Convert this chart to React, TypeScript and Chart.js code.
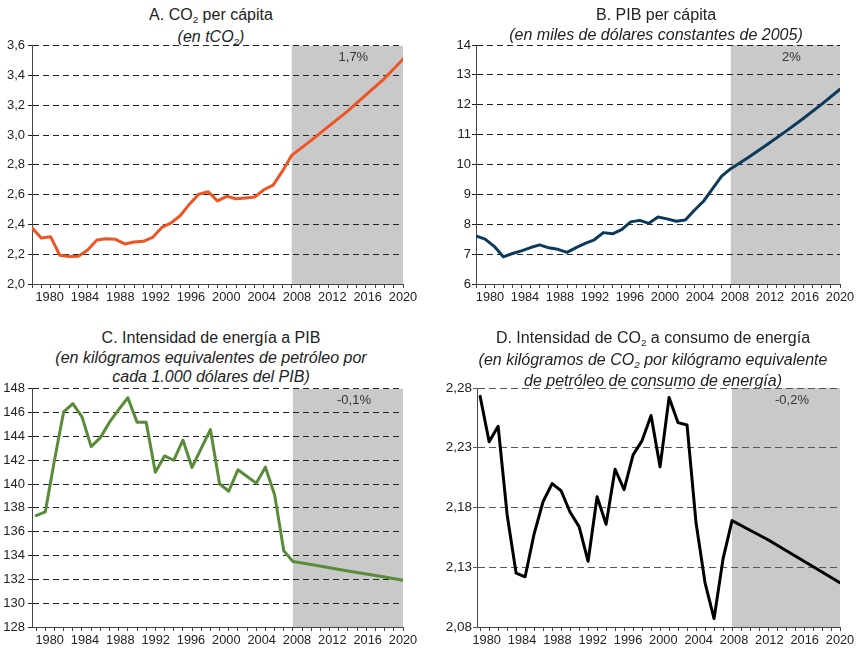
import React, { useEffect, useRef } from "react";
import { Chart, registerables } from "chart.js";

Chart.register(...registerables);

// ---------------- DATA ----------------
const historicalYears = [
  1980, 1981, 1982, 1983, 1984, 1985, 1986, 1987, 1988, 1989, 1990, 1991, 1992, 1993, 1994,
  1995, 1996, 1997, 1998, 1999, 2000, 2001, 2002, 2003, 2004, 2005, 2006, 2007, 2008,
];
const projectionYears = [2008, 2010, 2012, 2014, 2016, 2018, 2020];
const projectionStart = 2008;
const labelYears = [1980, 1984, 1988, 1992, 1996, 2000, 2004, 2008, 2012, 2016, 2020];

// A. CO2 per cápita (tCO2)
const co2PerCapitaHistorical = [
  2.378, 2.309, 2.318, 2.193, 2.184, 2.187, 2.229, 2.296, 2.304, 2.3, 2.269, 2.282, 2.287, 2.313, 2.38,
  2.411, 2.46, 2.538, 2.604, 2.62, 2.558, 2.589, 2.573, 2.578, 2.584, 2.633, 2.664, 2.758, 2.864,
];
const co2PerCapitaProjection = [2.864, 2.96, 3.06, 3.16, 3.27, 3.38, 3.51];
const co2PerCapitaTicks = [2.0, 2.2, 2.4, 2.6, 2.8, 3.0, 3.2, 3.4, 3.6];

// B. PIB per cápita (miles de dólares constantes de 2005)
const gdpPerCapitaHistorical = [
  7.61, 7.5, 7.26, 6.91, 7.02, 7.11, 7.22, 7.31, 7.21, 7.16, 7.06, 7.22, 7.36, 7.48, 7.72,
  7.68, 7.82, 8.08, 8.13, 8.03, 8.24, 8.18, 8.1, 8.14, 8.47, 8.77, 9.19, 9.61, 9.86,
];
const gdpPerCapitaProjection = [9.86, 10.25, 10.67, 11.1, 11.55, 12.02, 12.52];
const gdpPerCapitaTicks = [6, 7, 8, 9, 10, 11, 12, 13, 14];

// C. Intensidad de energía a PIB
const energyIntensityHistorical = [
  137.36, 137.67, 142.0, 146.06, 146.75, 145.64, 143.14, 143.9, 145.2, 146.25, 147.25, 145.2, 145.2, 141.0, 142.36,
  142.0, 143.7, 141.4, 143.0, 144.58, 140.03, 139.4, 141.2, 140.64, 140.08, 141.42, 139.1, 134.4, 133.5,
];
const energyIntensityProjection = [133.5, 133.24, 132.97, 132.71, 132.45, 132.19, 131.92];
const energyIntensityTicks = [128, 130, 132, 134, 136, 138, 140, 142, 144, 146, 148];

// D. Intensidad de CO2 a consumo de energía
const co2IntensityHistorical = [
  2.273, 2.235, 2.248, 2.174, 2.125, 2.122, 2.158, 2.185, 2.2, 2.194, 2.176, 2.164, 2.135, 2.189, 2.166,
  2.212, 2.195, 2.224, 2.236, 2.257, 2.214, 2.272, 2.251, 2.249, 2.167, 2.117, 2.087, 2.137, 2.169,
];
const co2IntensityProjection = [2.169, 2.161, 2.153, 2.144, 2.135, 2.126, 2.117];
const co2IntensityTicks = [2.08, 2.13, 2.18, 2.23, 2.28];

const growthLabels = ["1,7%", "2%", "-0,1%", "-0,2%"];

// ---------------- STYLE ----------------
const FONT = '"Liberation Sans", Arial, Helvetica, sans-serif';
const yearTickMarks = Array.from({ length: 41 }, (_, i) => 1980 + i);

type PanelSpec = {
  key: string;
  historical: number[];
  projection: number[];
  yTicks: number[];
  decimals: number;
  color: string;
  lineWidth: number;
  growth: string;
  left: number;
  top: number;
  height: number;
  yWidth: number;
  yPad: number;
  yFont: number;
  padRight: number;
  dataMin: number;
  labelMin: number;
  labelAxisHeight: number;
  gridColor: string;
  dash: number[];
  titleCenter: number;
  titleTop: number;
  title: React.ReactNode[];
};

const Sub2 = () => (
  <span style={{ fontSize: "0.62em", position: "relative", top: "0.34em" }}>2</span>
);

const shadePlugin = {
  id: "projectionShade",
  beforeDraw(chart: any, _args: any, opts: any) {
    const { ctx, chartArea } = chart;
    const x = chart.scales.x.getPixelForValue(projectionStart);
    ctx.save();
    ctx.fillStyle = "#c9c9c9";
    ctx.fillRect(x, chartArea.top, chartArea.right - x, chartArea.bottom - chartArea.top);
    ctx.fillStyle = "#333";
    ctx.font = `13px ${FONT}`;
    ctx.textAlign = "center";
    ctx.textBaseline = "middle";
    ctx.fillText(opts.label, (x + chartArea.right) / 2 + 6, chartArea.top + 12);
    ctx.restore();
  },
};

function buildConfig(s: PanelSpec): any {
  const points = [
    ...historicalYears.map((x, i) => ({ x, y: s.historical[i] })),
    ...projectionYears.slice(1).map((x, i) => ({ x, y: s.projection[i + 1] })),
  ];
  return {
    type: "line",
    data: {
      datasets: [
        {
          data: points,
          borderColor: s.color,
          borderWidth: s.lineWidth,
          pointRadius: 0,
          tension: 0,
          fill: false,
          borderJoinStyle: "round",
          borderCapStyle: "round",
          xAxisID: "x",
          yAxisID: "y",
        },
      ],
    },
    options: {
      responsive: false,
      animation: false,
      events: [],
      layout: { padding: { left: 0, top: 10, right: s.padRight, bottom: 0 } },
      plugins: {
        legend: { display: false },
        tooltip: { enabled: false },
        title: { display: false },
        projectionShade: { label: s.growth },
      },
      scales: {
        x: {
          type: "linear",
          position: "bottom",
          weight: 0,
          min: s.dataMin,
          max: 2020,
          afterBuildTicks: (ax: any) => {
            ax.ticks = yearTickMarks.map((v) => ({ value: v }));
          },
          ticks: { display: false },
          grid: { drawOnChartArea: false, drawTicks: true, tickLength: 4, color: "#444", lineWidth: 1 },
          border: { display: true, color: "#444", width: 1 },
          afterFit: (sc: any) => {
            sc.height = 5;
          },
        },
        xl: {
          type: "linear",
          position: "bottom",
          weight: 1,
          min: s.labelMin,
          max: 2020,
          afterBuildTicks: (ax: any) => {
            ax.ticks = labelYears.map((v) => ({ value: v }));
          },
          ticks: {
            autoSkip: false,
            maxRotation: 0,
            padding: 1,
            color: "#222",
            font: { family: FONT, size: 12.8 },
            callback: (v: any) => String(v),
          },
          grid: { display: false, drawTicks: false },
          border: { display: false },
          afterFit: (sc: any) => {
            sc.height = s.labelAxisHeight;
          },
        },
        y: {
          type: "linear",
          position: "left",
          min: s.yTicks[0],
          max: s.yTicks[s.yTicks.length - 1],
          afterBuildTicks: (ax: any) => {
            ax.ticks = s.yTicks.map((v) => ({ value: v }));
          },
          ticks: {
            autoSkip: false,
            padding: s.yPad,
            color: "#222",
            font: { family: FONT, size: s.yFont },
            callback: (v: any) => Number(v).toFixed(s.decimals).replace(".", ","),
          },
          grid: { color: s.gridColor, lineWidth: 1, drawTicks: true, tickLength: 4 },
          border: { display: true, color: "#444", width: 1, dash: s.dash },
          afterFit: (sc: any) => {
            sc.width = s.yWidth;
          },
        },
      },
    },
    plugins: [shadePlugin],
  };
}

const panels: PanelSpec[] = [
  {
    key: "A",
    historical: co2PerCapitaHistorical,
    projection: co2PerCapitaProjection,
    yTicks: co2PerCapitaTicks,
    decimals: 1,
    color: "#ef5524",
    lineWidth: 3,
    growth: growthLabels[0],
    left: 0,
    top: 35,
    height: 275,
    yWidth: 32,
    yPad: 3,
    yFont: 13,
    padRight: 27,
    dataMin: 1980,
    labelMin: 1978,
    labelAxisHeight: 21,
    gridColor: "#222",
    dash: [6, 4],
    titleCenter: 211,
    titleTop: 5,
    title: [
      <span>
        A. CO<Sub2 /> per cápita
      </span>,
      <i>
        (en tCO<Sub2 />)
      </i>,
    ],
  },
  {
    key: "B",
    historical: gdpPerCapitaHistorical,
    projection: gdpPerCapitaProjection,
    yTicks: gdpPerCapitaTicks,
    decimals: 0,
    color: "#0c3a5c",
    lineWidth: 3,
    growth: growthLabels[1],
    left: 430,
    top: 35,
    height: 275,
    yWidth: 46,
    yPad: 1,
    yFont: 13,
    padRight: 20,
    dataMin: 1980,
    labelMin: 1978.4,
    labelAxisHeight: 21,
    gridColor: "#222",
    dash: [6, 4],
    titleCenter: 656,
    titleTop: 5,
    title: [<span>B. PIB per cápita</span>, <i>(en miles de dólares constantes de 2005)</i>],
  },
  {
    key: "C",
    historical: energyIntensityHistorical,
    projection: energyIntensityProjection,
    yTicks: energyIntensityTicks,
    decimals: 0,
    color: "#5a8b38",
    lineWidth: 3,
    growth: growthLabels[2],
    left: 0,
    top: 378,
    height: 273,
    yWidth: 32,
    yPad: 3,
    yFont: 13,
    padRight: 27,
    dataMin: 1979.55,
    labelMin: 1978,
    labelAxisHeight: 19,
    gridColor: "#222",
    dash: [6, 4],
    titleCenter: 211,
    titleTop: 328,
    title: [
      <span>C. Intensidad de energía a PIB</span>,
      <i>(en kilógramos equivalentes de petróleo por</i>,
      <i>cada 1.000 dólares del PIB)</i>,
    ],
  },
  {
    key: "D",
    historical: co2IntensityHistorical,
    projection: co2IntensityProjection,
    yTicks: co2IntensityTicks,
    decimals: 2,
    color: "#000000",
    lineWidth: 3,
    growth: growthLabels[3],
    left: 430,
    top: 378,
    height: 273,
    yWidth: 47,
    yPad: 1,
    yFont: 13.5,
    padRight: 20,
    dataMin: 1979.65,
    labelMin: 1978.9,
    labelAxisHeight: 19,
    gridColor: "#555",
    dash: [7, 4],
    titleCenter: 653,
    titleTop: 328,
    title: [
      <span>
        D. Intensidad de CO<Sub2 /> a consumo de energía
      </span>,
      <i>
        (en kilógramos de CO<Sub2 /> por kilógramo equivalente
      </i>,
      <i>de petróleo de consumo de energía)</i>,
    ],
  },
];

function Panel({ spec }: { spec: PanelSpec }) {
  const ref = useRef<HTMLCanvasElement>(null);
  useEffect(() => {
    if (!ref.current) return;
    const chart = new Chart(ref.current, buildConfig(spec));
    return () => chart.destroy();
  }, [spec]);
  return (
    <>
      <div
        style={{
          position: "absolute",
          left: spec.titleCenter - 260,
          width: 520,
          top: spec.titleTop,
          textAlign: "center",
          fontSize: 16,
          lineHeight: "19.5px",
          color: "#222",
          whiteSpace: "nowrap",
        }}
      >
        {spec.title.map((t, i) => (
          <div key={i}>{t}</div>
        ))}
      </div>
      <canvas
        ref={ref}
        width={430}
        height={spec.height}
        style={{
          position: "absolute",
          left: spec.left,
          top: spec.top,
          width: 430,
          height: spec.height,
          display: "block",
        }}
      />
    </>
  );
}

export default function App() {
  return (
    <div
      style={{
        position: "fixed",
        left: 0,
        top: 0,
        width: 860,
        height: 651,
        background: "#ffffff",
        fontFamily: FONT,
        overflow: "hidden",
      }}
    >
      {panels.map((p) => (
        <Panel key={p.key} spec={p} />
      ))}
    </div>
  );
}
